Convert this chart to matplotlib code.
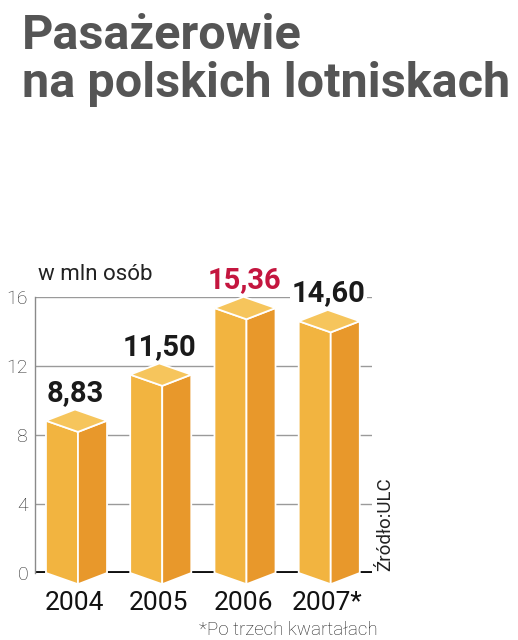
import matplotlib.pyplot as plt
from matplotlib.patches import Polygon

years = ["2004", "2005", "2006", "2007*"]
values = [8.83, 11.50, 15.36, 14.60]
value_labels = ["8,83", "11,50", "15,36", "14,60"]
label_colors = ["#1a1a1a", "#1a1a1a", "#c4163f", "#1a1a1a"]
yticks = [0, 4, 8, 12, 16]

c_left = "#f2b440"
c_right = "#e8982b"
c_top = "#f6c55c"

W, H = 518, 640
fig = plt.figure(figsize=(W / 100, H / 100), dpi=100)
ax = fig.add_axes([35 / W, (H - 573) / H, (372 - 35) / W, (573 - 297) / H])
ax.set_xlim(-0.51, 3.49)
ax.set_ylim(0, 16)

# grid and axes
for t in yticks[1:]:
    ax.axhline(t, color="#9a9a9a", lw=1, zorder=0)
ax.axhline(0, color="#111111", lw=2.8, zorder=0.5)
for s in ["top", "right", "bottom"]:
    ax.spines[s].set_visible(False)
ax.spines["left"].set_color("#8a8a8a")
ax.spines["left"].set_linewidth(1)
ax.set_xticks([])
ax.set_yticks(yticks)
ax.tick_params(axis="y", length=0, pad=5, labelsize=14, labelcolor="#2a2a2a")
for lab in ax.get_yticklabels():
    lab.set_fontfamily("Roboto")
    lab.set_fontweight("light")

# pseudo-3D bars
wl, wr, d = 0.38, 0.345, 0.65
for i, v in enumerate(values):
    xm = i
    x0, x1 = xm - wl, xm + wr
    left = [(x0, 0), (xm, -d), (xm, v - d), (x0, v)]
    right = [(xm, -d), (x1, 0), (x1, v), (xm, v - d)]
    top = [(x0, v), (xm, v - d), (x1, v), (x0 + x1 - xm, v + d)]
    for pts, c in [(left, c_left), (right, c_right), (top, c_top)]:
        ax.add_patch(Polygon(pts, closed=True, facecolor=c, edgecolor="white",
                             lw=1.3, zorder=2, clip_on=False, joinstyle="round"))
    bbox = dict(facecolor="white", edgecolor="none", pad=1) if i == 3 else None
    ax.annotate(value_labels[i], (xm - 0.03, v + d), xytext=(0, 6),
                textcoords="offset points", ha="center", va="baseline",
                fontsize=21, fontweight="bold", color=label_colors[i],
                family="Roboto", zorder=3, annotation_clip=False, bbox=bbox)
    ax.text(xm - 0.04, -0.134, years[i], transform=ax.get_xaxis_transform(),
            ha="center", va="baseline", fontsize=19, color="#111111",
            family="Roboto", fontweight="normal")

# texts
fig.text(22 / W, 1 - 49 / H, "Pasażerowie", fontsize=35, fontweight="bold",
         color="#555555", family="Roboto", va="baseline")
fig.text(22 / W, 1 - 97 / H, "na polskich lotniskach", fontsize=35,
         fontweight="bold", color="#555555", family="Roboto", va="baseline")
fig.text(38 / W, 1 - 280 / H, "w mln osób", fontsize=16, color="#222222",
         family="Roboto", va="baseline")
fig.text(394 / W, 1 - 571 / H, "Źródło:ULC", fontsize=13.5, color="#222222",
         family="Roboto", rotation=90, ha="right", va="bottom")
fig.text(378 / W, 1 - 635 / H, "*Po trzech kwartałach", fontsize=13.5,
         color="#222222", family="Roboto", fontweight="light", ha="right",
         va="baseline")

fig.savefig("out.png", dpi=100, facecolor="white")
